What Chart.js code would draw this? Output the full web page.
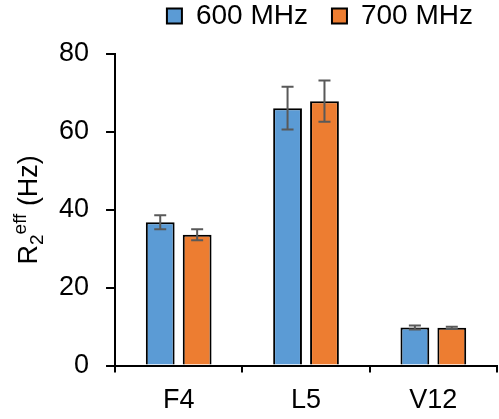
<!DOCTYPE html>
<html>
<head>
<meta charset="utf-8">
<script src="https://cdn.jsdelivr.net/npm/chart.js@4.4.0/dist/chart.umd.min.js"></script>
<style>
  html, body { margin: 0; padding: 0; background: #fff; }
</style>
</head>
<body>
<canvas id="r2Chart" width="499" height="419"></canvas>
<script>
// values
const residues = ['F4', 'L5', 'V12'];
const r2At600 = [36.8, 66.1, 9.8];
const r2At600Err = [1.8, 5.5, 0.5];
const r2At700 = [33.6, 67.9, 9.7];
const r2At700Err = [1.4, 5.3, 0.3];
const yMin = 0, yMax = 80, yStep = 20;

const FONT = "'Liberation Sans', Arial, sans-serif";

// error bars drawn on top of the bars, using the y scale
const errorBars = {
    id: 'errorBars',
    afterDatasetsDraw(chart) {
        const { ctx } = chart;
        const y = chart.scales.y;
        ctx.save();
        ctx.strokeStyle = '#595959';
        ctx.lineWidth = 2;
        chart.data.datasets.forEach((ds, i) => {
            chart.getDatasetMeta(i).data.forEach((bar, j) => {
                const top = y.getPixelForValue(ds.data[j] + ds.errors[j]);
                const bottom = y.getPixelForValue(ds.data[j] - ds.errors[j]);
                ctx.beginPath();
                ctx.moveTo(bar.x, top); ctx.lineTo(bar.x, bottom);
                ctx.moveTo(bar.x - 6, top); ctx.lineTo(bar.x + 6, top);
                ctx.moveTo(bar.x - 6, bottom); ctx.lineTo(bar.x + 6, bottom);
                ctx.stroke();
            });
        });
        ctx.restore();
    }
};

// y axis title with subscript / superscript
const yTitle = {
    id: 'yTitle',
    afterDraw(chart) {
        const { ctx, chartArea } = chart;
        const parts = [
            { text: 'R', size: 27, dy: 0 },
            { text: '2', size: 19, dy: 6 },
            { text: 'eff', size: 19, dy: -11 },
            { text: ' (Hz)', size: 27, dy: 0 }
        ];
        ctx.save();
        let total = 0;
        parts.forEach(p => {
            ctx.font = `${p.size}px ${FONT}`;
            p.w = ctx.measureText(p.text).width;
            total += p.w;
        });
        ctx.translate(37, (chartArea.top + chartArea.bottom) / 2);
        ctx.rotate(-Math.PI / 2);
        ctx.fillStyle = '#000';
        ctx.textBaseline = 'alphabetic';
        let x = -total / 2;
        parts.forEach(p => {
            ctx.font = `${p.size}px ${FONT}`;
            ctx.fillText(p.text, x, p.dy);
            x += p.w;
        });
        ctx.restore();
    }
};

Chart.defaults.font.family = FONT;
Chart.defaults.color = '#000';

const ctx = document.getElementById('r2Chart').getContext('2d');
new Chart(ctx, {
    type: 'bar',
    data: {
        labels: residues,
        datasets: [
            {
                label: '600 MHz',
                data: r2At600,
                errors: r2At600Err,
                backgroundColor: '#5B9BD5',
                borderColor: '#000',
                borderWidth: 2,
                categoryPercentage: 0.58,
                barPercentage: 0.78
            },
            {
                label: '700 MHz',
                data: r2At700,
                errors: r2At700Err,
                backgroundColor: '#ED7D31',
                borderColor: '#000',
                borderWidth: 2,
                categoryPercentage: 0.58,
                barPercentage: 0.78
            }
        ]
    },
    options: {
        responsive: false,
        animation: false,
        layout: {
            padding: { left: 42, right: 2, top: -22, bottom: -10 }
        },
        scales: {
            x: {
                grid: {
                    offset: true,
                    drawOnChartArea: false,
                    color: '#000',
                    lineWidth: 2,
                    tickLength: 7
                },
                border: { color: '#000', width: 2 },
                ticks: { font: { size: 27 }, padding: 12, color: '#000' }
            },
            y: {
                min: yMin,
                max: yMax,
                grid: {
                    drawOnChartArea: false,
                    color: '#000',
                    lineWidth: 2,
                    tickLength: 9
                },
                border: { color: '#000', width: 2 },
                ticks: { stepSize: yStep, font: { size: 27, lineHeight: 1 }, padding: 17, color: '#000' }
            }
        },
        plugins: {
            legend: {
                position: 'top',
                align: 'end',
                labels: {
                    color: '#000',
                    font: { size: 28 },
                    boxWidth: 15,
                    boxHeight: 15,
                    padding: 24
                }
            },
            title: {
                display: true,
                text: '',
                weight: 500,
                padding: { top: 0, bottom: 13 },
                font: { size: 1, lineHeight: 1 }
            },
            tooltip: { enabled: false }
        }
    },
    plugins: [errorBars, yTitle]
});
</script>
</body>
</html>
